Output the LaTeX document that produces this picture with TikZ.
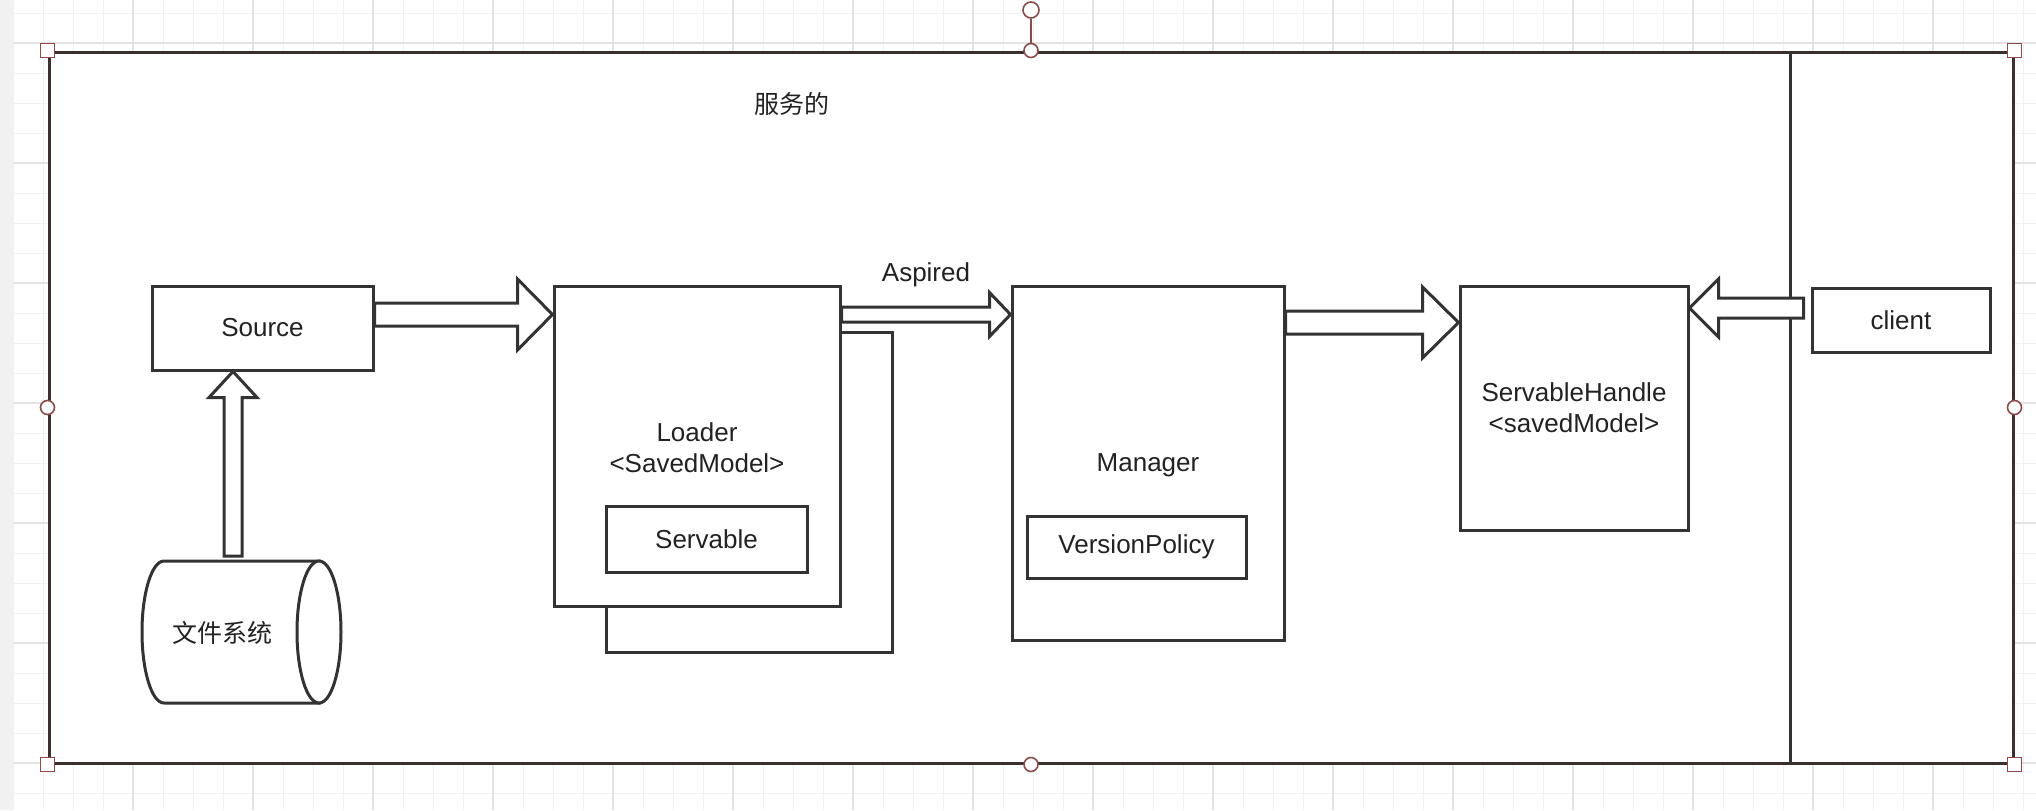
\documentclass[tikz,border=0pt]{standalone}
\usepackage{fontspec}
\setmainfont{Liberation Sans}
\newfontfamily\cjk{Noto Sans CJK SC}
\usetikzlibrary{calc}
\definecolor{boxc}{HTML}{333333}
\definecolor{framec}{HTML}{3E2F2F}
\definecolor{handlec}{HTML}{8A4B4B}
\definecolor{gridmin}{HTML}{F1F1F1}
\definecolor{gridmaj}{HTML}{E3E3E3}
\definecolor{txtc}{HTML}{222222}
\newcommand\harrow[5]{%
  \draw[blockarrow] let \p1=#1, \p2=#2 in
    (\x1,{\y1+#3}) -- ({\x2-(#5)},{\y1+#3}) -- ({\x2-(#5)},{\y1+#4}) -- (\x2,\y1)
    -- ({\x2-(#5)},{\y1-#4}) -- ({\x2-(#5)},{\y1-#3}) -- (\x1,{\y1-#3}) -- cycle;}
\newcommand\varrow[5]{%
  \draw[blockarrow] let \p1=#1, \p2=#2 in
    ({\x1+#3},\y1) -- ({\x1+#3},{\y2-(#5)}) -- ({\x1+#4},{\y2-(#5)}) -- (\x1,\y2)
    -- ({\x1-#4},{\y2-(#5)}) -- ({\x1-#3},{\y2-(#5)}) -- ({\x1-#3},\y1) -- cycle;}
\begin{document}
\begin{tikzpicture}[x=0.5pt,y=-0.5pt,
  box/.style={draw=boxc, line width=1.5pt, fill=white, inner sep=0pt,
    font=\fontsize{13}{15.5}\selectfont, text=txtc, align=center},
  txt/.style={font=\fontsize{13}{15.5}\selectfont, text=txtc, align=center, inner sep=0pt},
  cjktxt/.style={font=\cjk\fontsize{12.5}{15}\selectfont, text=txtc, inner sep=0pt},
  blockarrow/.style={draw=boxc, line width=1.5pt, fill=white, line join=miter},
  hsq/.style={draw=handlec, fill=white, line width=0.8pt, minimum size=7pt, inner sep=0pt},
  hcirc/.style={circle, draw=handlec, fill=white, line width=0.8pt, minimum size=7pt, inner sep=0pt},
  gridminor/.style={draw=gridmin, line width=0.5pt},
  gridmajor/.style={draw=gridmaj, line width=0.6pt}]
\useasboundingbox (0,0) rectangle (2036,810);
% background grid
\fill[white] (0,0) rectangle (2036,810);
\foreach \x in {13,43,...,2036} \draw[gridminor] (\x,0) -- (\x,810);
\foreach \y in {13,43,...,810} \draw[gridminor] (13,\y) -- (2036,\y);
\foreach \x in {133,253,...,2036} \draw[gridmajor] (\x,0) -- (\x,810);
\foreach \y in {43,163,...,810} \draw[gridmajor] (13,\y) -- (2036,\y);
\fill[gridmin] (0,0) rectangle (13,810);
% outer frame
\node[draw=framec, line width=1.5pt, fill=white, minimum width=982pt, minimum height=355.5pt, inner sep=0pt] (frame) at (1031,407.5) {};
\coordinate (divx) at (1790,0);
\draw[boxc, line width=1.5pt] (frame.north -| divx) -- (frame.south -| divx);
\node[cjktxt] (title) at (792,104) {服务的};
% nodes
\node[box, minimum width=110.5pt, minimum height=42pt] (src) at (262.5,328) {Source};
\node[box, minimum width=143pt, minimum height=160pt] (shadow) at (749,492) {};
\node[box, minimum width=143pt, minimum height=160pt] (loader) at (697,446) {};
\node[txt] (loadertxt) at (697,448) {Loader\\<SavedModel>};
\node[box, minimum width=100.5pt, minimum height=33pt] (servable) at (706.5,539) {Servable};
\node[box, minimum width=136pt, minimum height=177pt] (mgr) at (1148,463) {};
\node[txt] (mgrtxt) at (1148,465) {Manager};
\node[box, minimum width=109.5pt, minimum height=31pt] (vp) at (1136.5,547) {VersionPolicy};
\node[box, minimum width=114pt, minimum height=122pt] (sh) at (1574,408) {ServableHandle\\<savedModel>};
\node[box, minimum width=89pt, minimum height=32pt] (client) at (1901,320) {client};
% cylinder
\node[minimum width=99.5pt, minimum height=71pt, inner sep=0pt] (fs) at (241.5,632) {};
\draw[boxc, line width=1.5pt, fill=white] (164,561) -- (319,561) -- (319,703) -- (164,703)
  arc[start angle=270, end angle=90, x radius=11pt, y radius=35.5pt];
\draw[boxc, line width=1.5pt, fill=white] (319,632) ellipse [x radius=11pt, y radius=35.5pt];
\node[cjktxt] (fstxt) at (222,633) {文件系统};
% arrows
\coordinate (ya) at (0,314.5);
\coordinate (yb) at (0,314.5);
\coordinate (yc) at (0,322.5);
\coordinate (yd) at (0,308);
\coordinate (fstop) at (233,556);
\coordinate (clienttail) at ($(client.west |- yd)+(-7,0)$);
\harrow{(src.east |- ya)}{(loader.west |- ya)}{5.75pt}{17.75pt}{17.5pt}
\harrow{(loader.east |- yb)}{(mgr.west |- yb)}{3.75pt}{11pt}{10.5pt}
\harrow{(mgr.east |- yc)}{(sh.west |- yc)}{5.75pt}{17.75pt}{18pt}
\harrow{(clienttail)}{(sh.east |- yd)}{5pt}{14.5pt}{-14.5pt}
\varrow{(fstop)}{(src.south -| fstop)}{4.5pt}{12pt}{13pt}
\node[txt] (aspired) at (926,275) {Aspired};
% selection handles
\node[hcirc, minimum size=8pt] (rot) at (1031,10) {};
\draw[handlec, line width=0.8pt] (rot) -- (frame.north);
\node[hsq] (h1) at (frame.north west) {};
\node[hsq] (h2) at (frame.north east) {};
\node[hsq] (h3) at (frame.south west) {};
\node[hsq] (h4) at (frame.south east) {};
\node[hcirc] (h5) at (frame.north) {};
\node[hcirc] (h6) at (frame.south) {};
\node[hcirc] (h7) at (frame.west) {};
\node[hcirc] (h8) at (frame.east) {};
\end{tikzpicture}
\end{document}
